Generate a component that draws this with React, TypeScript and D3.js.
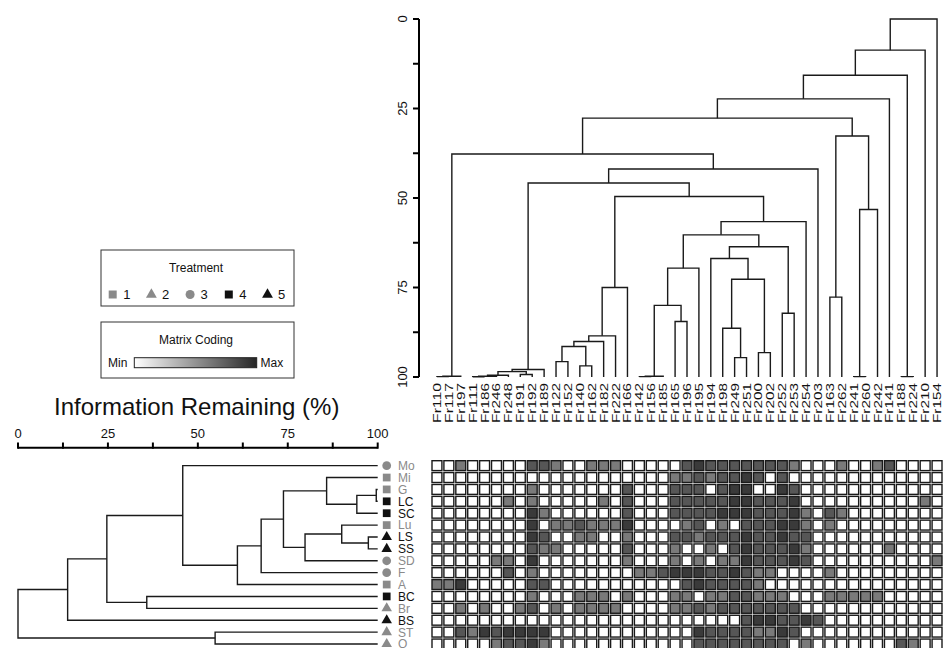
import React, { useMemo } from 'react';
import * as d3 from 'd3';

// column (sample) leaves, in dendrogram order
const colNames = ['Fr110', 'Fr117', 'Fr197', 'Fr111', 'Fr186', 'Fr246', 'Fr248', 'Fr191', 'Fr192', 'Fr189',
  'Fr122', 'Fr152', 'Fr140', 'Fr162', 'Fr182', 'Fr222', 'Fr166', 'Fr142', 'Fr156', 'Fr185', 'Fr165',
  'Fr196', 'Fr195', 'Fr194', 'Fr198', 'Fr249', 'Fr251', 'Fr200', 'Fr202', 'Fr252', 'Fr253', 'Fr254',
  'Fr203', 'Fr163', 'Fr262', 'Fr241', 'Fr260', 'Fr242', 'Fr141', 'Fr188', 'Fr224', 'Fr210', 'Fr154'];

// row leaves and their treatment group
const rowNames = ['Mo', 'Mi', 'G', 'LC', 'SC', 'Lu', 'LS', 'SS', 'SD', 'F', 'A', 'BC', 'Br', 'BS', 'ST', 'Q'];
const rowTreatment = [3, 1, 1, 4, 4, 1, 5, 5, 3, 3, 1, 4, 2, 5, 2, 2];

const treatments = [1, 2, 3, 4, 5];

// merges: [id, left, right, information remaining (%)]
const colMerges: [string, string, string, number][] = [
  ['c1', 'Fr110', 'Fr117', 99.9],
  ['c2', 'c1', 'Fr197', 99.8],
  ['c3', 'Fr111', 'Fr186', 99.95],
  ['c4', 'c3', 'Fr246', 99.8],
  ['c5', 'c4', 'Fr248', 99.5],
  ['c6', 'Fr191', 'Fr192', 99.3],
  ['c7', 'c5', 'c6', 98.5],
  ['c8', 'c7', 'Fr189', 97.9],
  ['c9', 'Fr122', 'Fr152', 95.7],
  ['c10', 'Fr140', 'Fr162', 96.9],
  ['c11', 'c9', 'c10', 91.5],
  ['c12', 'c11', 'Fr182', 90.1],
  ['c13', 'c12', 'Fr222', 88.5],
  ['c14', 'c13', 'Fr166', 75.0],
  ['c15', 'Fr142', 'Fr156', 99.9],
  ['c16', 'c15', 'Fr185', 99.8],
  ['c17', 'Fr165', 'Fr196', 84.5],
  ['c18', 'c16', 'c17', 80.0],
  ['c19', 'c18', 'Fr195', 69.6],
  ['c20', 'Fr249', 'Fr251', 94.6],
  ['c21', 'Fr198', 'c20', 86.4],
  ['c22', 'Fr200', 'Fr202', 93.2],
  ['c23', 'c21', 'c22', 72.7],
  ['c24', 'Fr194', 'c23', 66.9],
  ['c25', 'Fr252', 'Fr253', 82.2],
  ['c26', 'c24', 'c25', 63.6],
  ['c27', 'c19', 'c26', 60.3],
  ['c28', 'c27', 'Fr254', 56.6],
  ['c29', 'c14', 'c28', 49.6],
  ['c30', 'c8', 'c29', 45.8],
  ['c31', 'c30', 'Fr203', 41.9],
  ['c32', 'c2', 'c31', 37.7],
  ['c33', 'Fr163', 'Fr262', 77.7],
  ['c34', 'Fr241', 'Fr260', 99.9],
  ['c35', 'c34', 'Fr242', 53.2],
  ['c36', 'c33', 'c35', 32.7],
  ['c37', 'c32', 'c36', 27.7],
  ['c38', 'c37', 'Fr141', 22.3],
  ['c39', 'Fr188', 'Fr224', 99.9],
  ['c40', 'c38', 'c39', 15.7],
  ['c41', 'c40', 'Fr210', 8.7],
  ['c42', 'c41', 'Fr154', 0],
];

const rowMerges: [string, string, string, number][] = [
  ['r1', 'G', 'LC', 99.6],
  ['r2', 'r1', 'SC', 94.2],
  ['r3', 'Mi', 'r2', 85.8],
  ['r4', 'LS', 'SS', 97.4],
  ['r5', 'Lu', 'r4', 90.0],
  ['r6', 'r5', 'SD', 79.8],
  ['r7', 'r3', 'r6', 73.8],
  ['r8', 'r7', 'F', 67.6],
  ['r9', 'r8', 'A', 61.0],
  ['r10', 'Mo', 'r9', 45.8],
  ['r11', 'BC', 'Br', 35.8],
  ['r12', 'r10', 'r11', 24.7],
  ['r13', 'r12', 'BS', 13.8],
  ['r14', 'ST', 'Q', 54.8],
  ['r15', 'r13', 'r14', 0],
];

// matrix coding, 0 (min) .. 3 (max), one row per rowNames entry
const matrix = [
  [0,0,1,0,0,0,0,0,2,2,1,0,0,1,1,1,0,0,0,0,0,2,3,2,2,2,2,2,2,2,1,0,0,0,1,0,0,1,2,0,0,0,0],
  [0,0,0,0,0,0,0,0,0,0,0,0,0,0,0,0,0,0,0,0,1,1,2,1,2,2,3,2,0,2,0,0,0,0,0,0,0,0,0,0,0,0,0],
  [0,0,0,0,0,0,0,0,1,0,0,0,0,0,0,0,2,0,0,0,2,2,2,0,2,3,3,0,0,3,2,0,0,0,0,0,0,0,0,0,0,0,0],
  [0,0,0,0,0,0,1,0,1,0,0,0,0,0,1,0,2,0,0,0,2,2,2,2,2,3,3,2,2,2,3,0,0,0,0,0,0,0,0,0,0,1,0],
  [0,0,0,0,0,0,0,0,3,1,0,0,0,0,0,0,2,0,0,0,2,2,2,2,3,3,3,2,2,2,3,1,0,2,1,0,0,0,0,0,0,0,0],
  [0,0,0,0,0,0,0,0,3,0,1,1,2,1,1,1,3,0,0,0,0,1,2,0,1,0,2,2,2,3,3,1,0,1,0,0,0,0,0,0,0,0,0],
  [0,0,0,0,0,0,0,0,3,2,0,0,1,1,0,0,1,0,0,0,2,2,1,2,2,2,3,2,2,3,2,2,0,0,0,0,0,0,0,0,0,0,0],
  [0,0,0,0,0,0,0,0,2,1,1,0,0,0,0,0,2,0,0,0,1,0,0,1,0,2,3,2,2,2,3,1,0,0,0,0,0,0,1,0,0,0,0],
  [0,0,0,0,0,1,1,0,3,0,0,0,0,0,0,0,1,0,0,0,1,0,1,0,1,1,3,2,2,2,3,2,0,0,0,0,0,0,0,0,0,0,1],
  [0,0,0,0,0,0,2,0,1,0,0,0,0,0,0,0,0,1,1,2,3,3,3,2,2,3,2,1,1,0,0,0,0,1,0,0,0,0,0,0,0,0,0],
  [1,1,3,0,0,0,0,0,2,2,0,0,0,0,0,0,0,0,0,0,0,2,3,2,2,2,2,1,0,0,0,0,0,0,0,0,0,0,0,0,0,0,0],
  [0,0,0,0,0,0,0,0,1,0,0,0,1,1,1,0,1,0,0,0,1,1,0,1,1,2,2,1,1,1,0,0,0,1,1,1,1,1,0,0,0,0,0],
  [0,0,1,0,1,0,0,1,2,0,1,0,1,1,1,1,0,0,0,0,1,1,2,1,2,2,2,2,2,2,2,0,0,0,0,0,0,0,0,0,0,0,0],
  [0,0,0,0,0,0,0,0,0,0,0,0,0,0,0,0,0,0,0,0,0,0,0,0,0,0,2,3,3,2,2,3,2,0,0,0,0,0,0,0,0,0,0],
  [0,0,2,1,3,2,3,3,3,3,0,0,0,0,0,0,0,0,0,0,0,0,3,2,2,2,2,1,1,3,2,0,0,0,0,0,0,0,0,0,0,0,0],
  [0,0,0,0,0,1,2,2,3,1,0,0,0,0,0,0,0,0,0,0,0,0,2,2,2,2,2,2,2,2,0,1,0,0,0,0,0,0,0,2,1,0,0],
];

const axisTicks = [0, 25, 50, 75, 100];

const FONT = 'Arial, "Liberation Sans", sans-serif';
const GREY = '#8a8a8a';
const cellColors = ['#ffffff', '#7a7a7a', '#565656', '#3a3a3a'];

type Link = { pa: number; pb: number; ha: number; hb: number; h: number };

function layoutDendro(merges: [string, string, string, number][], leafPos: (n: string) => number): Link[] {
  const pos = new Map<string, number>();
  const ht = new Map<string, number>();
  return merges.map(([id, a, b, h]) => {
    const pa = pos.has(a) ? pos.get(a)! : leafPos(a);
    const pb = pos.has(b) ? pos.get(b)! : leafPos(b);
    const ha = ht.has(a) ? ht.get(a)! : 100;
    const hb = ht.has(b) ? ht.get(b)! : 100;
    pos.set(id, (pa + pb) / 2);
    ht.set(id, h);
    return { pa, pb, ha, hb, h };
  });
}

function symbolPath(t: number, size = 64) {
  const type = t === 2 || t === 5 ? d3.symbolTriangle : t === 3 ? d3.symbolCircle : d3.symbolSquare;
  const s = t === 2 || t === 5 ? size * 0.8 : size;
  return d3.symbol().type(type).size(s)() || '';
}
const symbolColor = (t: number) => (t >= 4 ? '#111' : GREY);

const App: React.FC = () => {
  const colX = useMemo(() => d3.scaleBand<string>().domain(colNames).range([431, 943]), []);
  const rowY = useMemo(() => d3.scaleBand<string>().domain(rowNames).range([459.7, 459.7 + 16 * 11.89]), []);
  const colH = useMemo(() => d3.scaleLinear().domain([0, 100]).range([19, 377]), []);
  const rowH = useMemo(() => d3.scaleLinear().domain([0, 100]).range([18, 377.7]), []);

  const cx = (n: string) => (colX(n) ?? 0) + colX.bandwidth() / 2;
  const ry = (n: string) => (rowY(n) ?? 0) + rowY.bandwidth() / 2;

  const line = d3.line();

  const colLinks = layoutDendro(colMerges, cx);
  const rowLinks = layoutDendro(rowMerges, ry);

  const minorTicks = d3.range(0, 100.01, 12.5);

  return (
    <svg width={945} height={648} style={{ position: 'absolute', left: 0, top: 0, background: '#fff' }}
      fontFamily={FONT}>
      <defs>
        <linearGradient id="mc" x1="0" x2="1" y1="0" y2="0">
          <stop offset="0" stopColor="#ffffff" />
          <stop offset="1" stopColor="#262626" />
        </linearGradient>
      </defs>

      {/* column dendrogram */}
      <g fill="none" stroke="#1a1a1a" strokeWidth={1.4}>
        {colLinks.map((l, i) => (
          <path key={i} d={line([
            [l.pa, colH(l.ha)], [l.pa, colH(l.h)], [l.pb, colH(l.h)], [l.pb, colH(l.hb)],
          ]) || ''} />
        ))}
      </g>
      <g>
        <line x1={419} x2={419} y1={colH(0)} y2={colH(100)} stroke="#000" strokeWidth={2} />
        {minorTicks.map(t => (
          <line key={t} x1={413} x2={419} y1={colH(t)} y2={colH(t)} stroke="#000" strokeWidth={2} />
        ))}
        {axisTicks.map(t => (
          <text key={t} transform={`translate(407,${colH(t)}) rotate(-90)`} textAnchor="middle"
            fontSize={13} fill="#111">{t}</text>
        ))}
      </g>
      {colNames.map(n => (
        <text key={n} transform={`translate(${cx(n) + 4},383) rotate(-90)`} textAnchor="end"
          fontSize={11} fill="#111" textLength={40} lengthAdjust="spacingAndGlyphs">{n}</text>
      ))}

      {/* legend */}
      <rect x={101} y={250} width={193} height={56} fill="#fff" stroke="#333" strokeWidth={1} />
      <text x={196} y={272} textAnchor="middle" fontSize={12} fill="#111">Treatment</text>
      {treatments.map((t, i) => {
        const x0 = 112.7 + i * 38.7;
        return (
          <g key={t}>
            <path d={symbolPath(t)} transform={`translate(${x0},294.5)`} fill={symbolColor(t)} />
            <text x={x0 + 10.5} y={299} fontSize={13} fill="#111">{t}</text>
          </g>
        );
      })}
      <rect x={101} y={322} width={193} height={56} fill="#fff" stroke="#333" strokeWidth={1} />
      <text x={196} y={344} textAnchor="middle" fontSize={12} fill="#111">Matrix Coding</text>
      <text x={108} y={367} fontSize={12} fill="#111">Min</text>
      <rect x={134.3} y={357.7} width={122.4} height={10} fill="url(#mc)" stroke="#222" strokeWidth={1} />
      <text x={260.5} y={367} fontSize={12} fill="#111">Max</text>

      {/* row axis */}
      <text x={196.7} y={415} textAnchor="middle" fontSize={24} fill="#111">Information Remaining (%)</text>
      <line x1={rowH(0)} x2={rowH(100)} y1={447.7} y2={447.7} stroke="#000" strokeWidth={2} />
      {minorTicks.map(t => (
        <line key={t} x1={rowH(t)} x2={rowH(t)} y1={442.5} y2={448.7} stroke="#000" strokeWidth={2} />
      ))}
      {axisTicks.map(t => (
        <text key={t} x={rowH(t)} y={438} textAnchor="middle" fontSize={13} fill="#111">{t}</text>
      ))}

      {/* row dendrogram */}
      <g fill="none" stroke="#1a1a1a" strokeWidth={1.4}>
        {rowLinks.map((l, i) => (
          <path key={i} d={line([
            [rowH(l.ha), l.pa], [rowH(l.h), l.pa], [rowH(l.h), l.pb], [rowH(l.hb), l.pb],
          ]) || ''} />
        ))}
      </g>
      {rowNames.map((n, i) => {
        const t = rowTreatment[i];
        return (
          <g key={n}>
            <path d={symbolPath(t, 60)} transform={`translate(386.7,${ry(n)})`} fill={symbolColor(t)} />
            <text x={398} y={ry(n) + 4.4} fontSize={12} fill={t >= 4 ? '#111' : GREY}>{n}</text>
          </g>
        );
      })}

      {/* matrix */}
      <g>
        {matrix.map((row, ri) => row.map((v, ci) => (
          <rect key={`${ri}-${ci}`}
            x={(colX(colNames[ci]) ?? 0) + 1} y={(rowY(rowNames[ri]) ?? 0) + 1}
            width={colX.bandwidth() - 2} height={rowY.bandwidth() - 2}
            fill={cellColors[v]} stroke="#1a1a1a" strokeWidth={1.4} />
        )))}
      </g>
    </svg>
  );
};

export default App;
